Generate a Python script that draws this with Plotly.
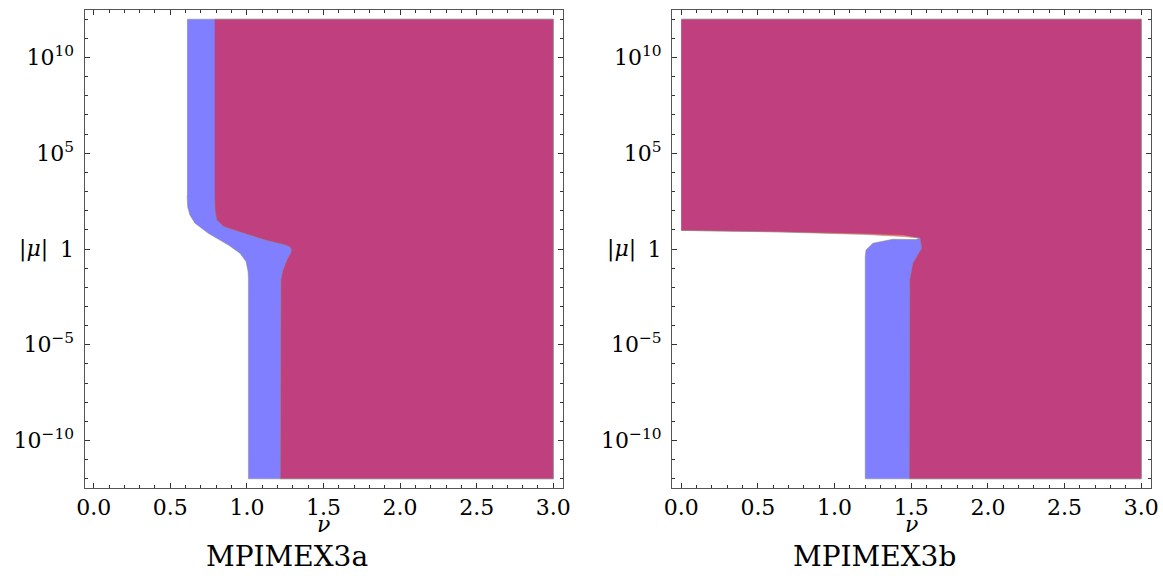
import numpy as np
import plotly.graph_objects as go

# ---------------- data (nu, log10|mu|) ----------------
# Panel a: blue region boundary
blue_a_nu  = [0.61, 3.0, 3.0, 1.01, 1.01, 1.008, 0.995, 0.955, 0.879, 0.748, 0.661, 0.628, 0.613, 0.61]
blue_a_log = [12.0, 12.0, -12.0, -12.0, -1.6, -1.2, -0.66, -0.22, 0.21, 0.82, 1.35, 1.78, 2.2, 2.8]
# Panel a: red region boundary
red_a_nu  = [0.79, 3.0, 3.0, 1.218, 1.222, 1.235, 1.261, 1.287, 1.29, 1.28, 1.25, 1.119, 0.945, 0.847, 0.803, 0.792, 0.79]
red_a_log = [12.0, 12.0, -12.0, -12.0, -1.6, -1.1, -0.57, -0.2, -0.02, 0.12, 0.21, 0.47, 0.91, 1.17, 1.52, 2.04, 2.6]

# Panel b: blue region boundary
blue_b_nu  = [0.0, 3.0, 3.0, 1.2, 1.2, 1.205, 1.25, 1.38, 1.53, 1.557, 1.45, 1.2, 0.64, 0.4, 0.0]
blue_b_log = [12.0, 12.0, -12.0, -12.0, -0.4, -0.05, 0.30, 0.51, 0.49, 0.57, 0.73, 0.81, 0.90, 0.93, 0.97]
# Panel b: red region boundary
red_b_nu  = [0.0, 3.0, 3.0, 1.487, 1.49, 1.51, 1.545, 1.566, 1.565, 1.557, 1.45, 1.2, 0.64, 0.4, 0.0]
red_b_log = [12.0, 12.0, -12.0, -12.0, -1.6, -0.75, -0.25, 0.0, 0.2, 0.57, 0.65, 0.76, 0.89, 0.93, 0.97]

x_ticks = [0.0, 0.5, 1.0, 1.5, 2.0, 2.5, 3.0]
x_ticktext = ["0.0", "0.5", "1.0", "1.5", "2.0", "2.5", "3.0"]
y_tick_exp = [-10, -5, 0, 5, 10]
y_ticktext = ["10<sup>\u221210</sup>", "10<sup>\u22125</sup>", "1", "10<sup>5</sup>", "10<sup>10</sup>"]
panel_titles = ["MPIMEX3a", "MPIMEX3b"]

# ---------------- figure ----------------
W, H = 1163, 576
FONT = "DejaVu Serif"
BLUE = "rgba(0,0,255,0.5)"
RED = "rgba(255,0,0,0.5)"
EDGE = "rgba(140,140,140,0.55)"

fig = go.Figure()

def add_region(nu, lg, color, xa, ya):
    fig.add_trace(go.Scatter(
        x=nu, y=list(10.0 ** np.array(lg)), mode="lines", fill="toself",
        fillcolor=color, line=dict(color=EDGE, width=1),
        xaxis=xa, yaxis=ya, showlegend=False, hoverinfo="skip"))

add_region(blue_a_nu, blue_a_log, BLUE, "x", "y")
add_region(red_a_nu, red_a_log, RED, "x", "y")
add_region(blue_b_nu, blue_b_log, BLUE, "x2", "y2")
add_region(red_b_nu, red_b_log, RED, "x2", "y2")

ydom = [(H - 488) / H, (H - 10) / H]
xdoms = [[84.5 / W, 562.5 / W], [672 / W, 1150.5 / W]]

def xaxis_cfg(dom, anchor):
    return dict(domain=dom, anchor=anchor, range=[-0.06, 3.06], automargin=False,
                tickmode="array", tickvals=x_ticks, ticktext=x_ticktext,
                ticks="inside", ticklen=5, tickwidth=1, tickcolor="#333",
                minor=dict(ticks="inside", ticklen=3, tickwidth=1, tickcolor="#333",
                           tickmode="linear", tick0=0, dtick=0.1),
                showline=True, linecolor="#555", linewidth=1, mirror="allticks",
                showgrid=False, zeroline=False, ticklabelstandoff=0,
                tickfont=dict(family=FONT, size=22, color="black"))

def yaxis_cfg(anchor):
    return dict(domain=ydom, anchor=anchor, type="log", range=[-12.48, 12.48], automargin=False,
                tickmode="array", tickvals=[10.0 ** e for e in y_tick_exp], ticktext=y_ticktext,
                ticks="inside", ticklen=5, tickwidth=1, tickcolor="#333",
                minor=dict(ticks="inside", ticklen=3, tickwidth=1, tickcolor="#333",
                           tickmode="array", tickvals=[10.0 ** e for e in range(-12, 13)]),
                showline=True, linecolor="#555", linewidth=1, mirror="allticks",
                showgrid=False, zeroline=False, ticklabelstandoff=5,
                tickfont=dict(family=FONT, size=22, color="black"))

fig.update_layout(
    width=W, height=H, margin=dict(l=0, r=0, t=0, b=0, pad=0, autoexpand=False),
    paper_bgcolor="white", plot_bgcolor="white", showlegend=False,
    font=dict(family=FONT, color="black"),
    xaxis=xaxis_cfg(xdoms[0], "y"), yaxis=yaxis_cfg("x"),
    xaxis2=xaxis_cfg(xdoms[1], "y2"), yaxis2=yaxis_cfg("x2"),
)

annots = []
for i, (dom, title) in enumerate(zip(xdoms, panel_titles)):
    xc = (dom[0] + dom[1]) / 2
    annots.append(dict(text="<i>\u03bd</i>", x=xc, y=(H - 524) / H, xref="paper", yref="paper",
                       xanchor="center", yanchor="middle", showarrow=False,
                       font=dict(family=FONT, size=22, color="black")))
    tx = 286.5 / W if i == 0 else 874.5 / W
    annots.append(dict(text=title, x=tx, y=(H - 556) / H, xref="paper", yref="paper",
                       xanchor="center", yanchor="middle", showarrow=False,
                       font=dict(family=FONT, size=28, color="black")))
    lx = 50 / W if i == 0 else 638 / W
    annots.append(dict(text="|<i>\u03bc</i>|", x=lx, y=0, xref="paper", yref="y" if i == 0 else "y2",
                       xanchor="right", yanchor="middle", showarrow=False,
                       font=dict(family=FONT, size=22, color="black")))
fig.update_layout(annotations=annots)

fig.write_html("out.html")
